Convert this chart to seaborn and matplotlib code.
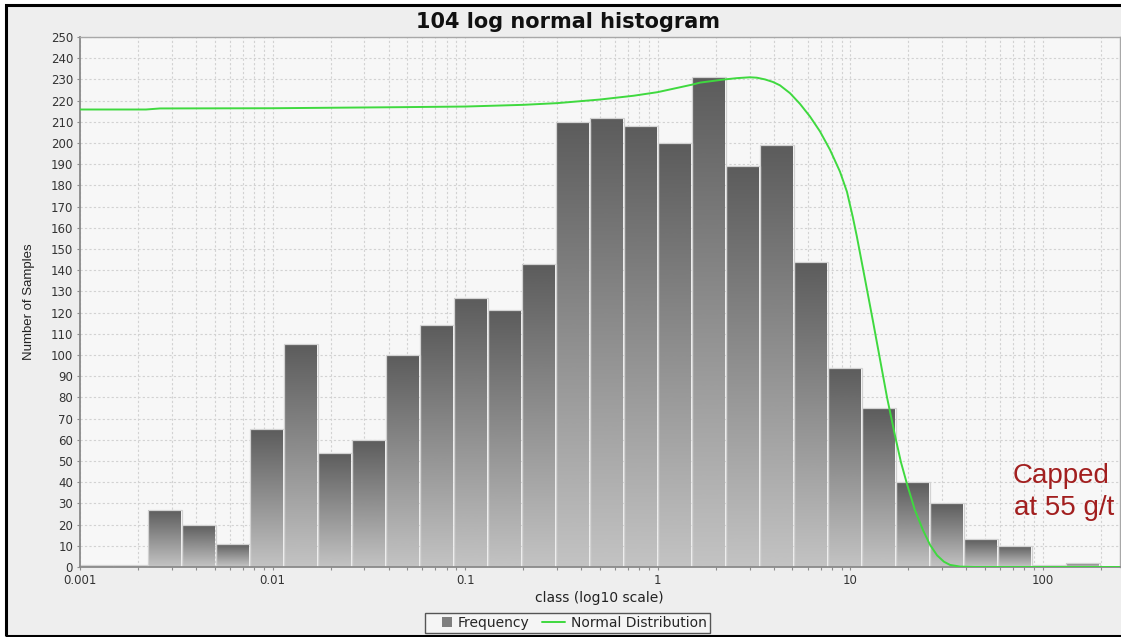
import numpy as np
import matplotlib
matplotlib.use("Agg")
import matplotlib.pyplot as plt
import matplotlib.transforms as mtransforms
from matplotlib.patches import Rectangle, Patch
from matplotlib.lines import Line2D
from matplotlib.colors import LinearSegmentedColormap
from matplotlib.legend_handler import HandlerPatch
from matplotlib.ticker import LogLocator, NullFormatter
import seaborn as sns

# ---------------- data ----------------
bin_log_range = (-3.0, 2.296)   # log10 of first and last bin edge
frequency = [1, 1, 27, 20, 11, 65, 105, 54, 60, 100, 114, 127, 121, 143,
             210, 212, 208, 200, 231, 189, 199, 144, 94, 75, 40, 30, 13, 10, 1, 2]

curve_x = [0.001, 0.0022, 0.0026, 0.01, 0.046, 0.1, 0.2, 0.3, 0.5, 0.75, 1.0,
           1.52, 1.66, 2.23, 2.58, 3.01, 3.27, 3.60, 3.96, 4.31, 4.86, 5.47,
           6.17, 6.95, 7.84, 8.83, 9.60, 10.3, 10.8, 11.9, 13.1, 14.25, 15.5,
           17.05, 18.3, 19.7, 21.6, 23.8, 25.9, 28.2, 30.6, 32.9, 37.1, 44.4, 250]
curve_y = [215.8, 215.8, 216.3, 216.4, 216.9, 217.2, 218.0, 218.8, 220.5, 222.3,
           224.0, 227.6, 228.5, 230.0, 230.6, 231.0, 230.8, 230.0, 228.8, 227.2,
           223.5, 218.5, 212.5, 205.5, 196.8, 186.5, 177.0, 165.0, 156.0, 136.0,
           116.0, 98.0, 80.0, 62.0, 49.5, 39.0, 27.0, 17.5, 10.5, 5.5, 2.5, 1.0,
           0.2, 0.0, 0.0]

x_ticks = [0.001, 0.01, 0.1, 1, 10, 100]
x_tick_labels = ["0.001", "0.01", "0.1", "1", "10", "100"]
y_ticks = list(range(0, 251, 10))

title = "104 log normal histogram"
x_label = "class (log10 scale)"
y_label = "Number of Samples"
note_lines = ["Capped", "at 55 g/t"]
legend_labels = ["Frequency", "Normal Distribution"]

# ---------------- style ----------------
sns.set_style("ticks")
plt.rcParams["font.family"] = ["DejaVu Sans"]

W, H = 1121, 637
fig = plt.figure(figsize=(W / 100, H / 100), dpi=100, facecolor="white")


def fx(px):
    return px / W


def fy(py):
    return 1 - py / H


# outer panel + black frame
fig.add_artist(Rectangle((fx(6.2), fy(635.5)), (1150 - 6.2) / W, (635.5 - 5.2) / H,
                         transform=fig.transFigure, facecolor="#eeeeee",
                         edgecolor="none", zorder=-1))
fig.add_artist(Rectangle((fx(6.2), fy(635.5)), (1150 - 6.2) / W, (635.5 - 5.2) / H,
                         transform=fig.transFigure, facecolor="none",
                         edgecolor="black", linewidth=2.2, zorder=10))

ax = fig.add_axes([fx(80), fy(567), (1119.6 - 80) / W, 530 / H])
ax.set_facecolor("#f7f7f7")

n_bins = len(frequency)
step = (bin_log_range[1] - bin_log_range[0]) / n_bins
centers = 10 ** (bin_log_range[0] + (np.arange(n_bins) + 0.5) * step)

sns.histplot(x=centers, weights=frequency, bins=n_bins, binrange=bin_log_range,
             log_scale=True, stat="count", color="#7a7a7a", edgecolor="#d2d2d2",
             linewidth=0.9, alpha=1, ax=ax, zorder=2)

ax.set_xlim(0.001, 250)
ax.set_ylim(0, 250)
ax.set_autoscale_on(False)

# vertical gradient inside every bar
cmap = LinearSegmentedColormap.from_list("bar_grad", ["#c3c3c3", "#5c5c5c"])
grad = np.linspace(1, 0, 256).reshape(-1, 1)
blend = mtransforms.blended_transform_factory(ax.transAxes, ax.transData)
for bar in list(ax.patches):
    h = bar.get_height()
    if h <= 0:
        continue
    im = ax.imshow(grad, cmap=cmap, vmin=0, vmax=1, extent=(0, 1, 0, h),
                   aspect="auto", transform=blend, interpolation="bilinear",
                   zorder=1.9)
    im.set_clip_path(bar)
    bar.set_facecolor("none")

sns.lineplot(x=curve_x, y=curve_y, color="#3fd93f", linewidth=1.4, sort=False,
             estimator=None, ax=ax, zorder=4)

ax.set_xlim(0.001, 250)
ax.set_ylim(0, 250)

# ticks / grid
ax.set_xticks(x_ticks, x_tick_labels)
ax.xaxis.set_minor_locator(LogLocator(base=10, subs=np.arange(2, 10)))
ax.xaxis.set_minor_formatter(NullFormatter())
ax.set_yticks(y_ticks)
ax.grid(True, which="both", axis="x", color="#d2d2d2", linestyle=(0, (2, 2)), linewidth=0.8)
ax.grid(True, which="major", axis="y", color="#d2d2d2", linestyle=(0, (2, 2)), linewidth=0.8)
ax.set_axisbelow(True)
ax.tick_params(axis="both", which="both", direction="out", length=2.5, width=0.8,
               color="#8c8c8c", labelsize=8.5, labelcolor="#333333", pad=2.5)
ax.tick_params(axis="x", which="minor", length=2)

for s in ax.spines.values():
    s.set_color("#a8a8a8")
    s.set_linewidth(1.0)
for side in ("left", "bottom"):
    ax.spines[side].set_color("#8a8a8a")
    ax.spines[side].set_linewidth(1.3)

ax.set_xlabel(x_label, fontsize=10, color="#222222")
ax.xaxis.set_label_coords(0.5, -0.045)
ax.set_ylabel(y_label, fontsize=9.5, family=["Liberation Sans", "DejaVu Sans"], color="#222222")
ax.yaxis.set_label_coords(-0.043, 0.5)

fig.text(fx(567.5), fy(28.3), title, ha="center", va="baseline", fontsize=15,
         fontweight="bold", color="#111111")

fig.text(fx(1013), fy(483), note_lines[0], ha="left", va="baseline", fontsize=20,
         color="#a21f1f", family=["Liberation Sans", "DejaVu Sans"])
fig.text(fx(1014), fy(515), note_lines[1], ha="left", va="baseline", fontsize=20,
         color="#a21f1f", family=["Liberation Sans", "DejaVu Sans"])


class SquareHandler(HandlerPatch):
    def create_artists(self, legend, orig_handle, xdescent, ydescent, width,
                       height, fontsize, trans):
        s = height * 1.05
        p = Rectangle((-xdescent + width - s, -ydescent + (height - s) / 2), s, s)
        self.update_prop(p, orig_handle, legend)
        p.set_transform(trans)
        return [p]


h_freq = Patch(facecolor="#7f7f7f", edgecolor="none")
h_norm = Line2D([], [], color="#3fd93f", linewidth=1.4)
leg = fig.legend([h_freq, h_norm], legend_labels, loc="center",
                 bbox_to_anchor=(fx(567.5), fy(623)), ncol=2, frameon=True,
                 fancybox=False, edgecolor="#555555", facecolor="#f5f5f5",
                 framealpha=1, fontsize=10, borderpad=0.25, handlelength=1.7,
                 handletextpad=0.4, columnspacing=0.9,
                 handler_map={Patch: SquareHandler()})
leg.get_frame().set_linewidth(1.0)

fig.savefig("out.png", dpi=100, facecolor=fig.get_facecolor())
